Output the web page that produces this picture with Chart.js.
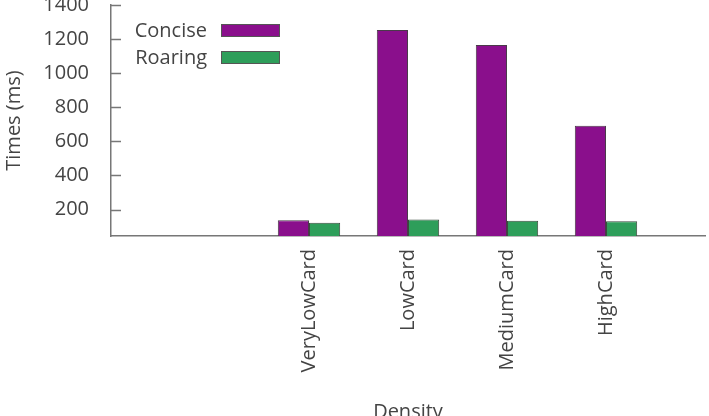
<!DOCTYPE html>
<html>
<head>
<meta charset="utf-8">
<script src="https://cdn.jsdelivr.net/npm/chart.js@4/dist/chart.umd.min.js"></script>
<style>
  html, body { margin: 0; padding: 0; background: #fff; }
  #wrap { width: 709px; height: 416px; }
</style>
</head>
<body>
<div id="wrap"><canvas id="densityChart" width="709" height="416"></canvas></div>
<script>
// Données
const categories = ['', '', 'VeryLowCard', 'LowCard', 'MediumCard', 'HighCard', ''];
const concise = [null, null, 138, 1253, 1165, 691, null];
const roaring = [null, null, 122, 142, 134, 131, null];
const yTicks = [200, 400, 600, 800, 1000, 1200, 1400];

const textColor = '#444';
const axisColor = '#777';

// Petits traits de graduation vers l'intérieur (style gnuplot)
const innerTicks = {
    id: 'innerTicks',
    afterDraw(chart) {
        const ctx = chart.ctx;
        const y = chart.scales.y;
        ctx.save();
        ctx.strokeStyle = axisColor;
        ctx.lineWidth = 1.5;
        yTicks.forEach(function(v) {
            const py = Math.round(y.getPixelForValue(v)) + 0.5;
            ctx.beginPath();
            ctx.moveTo(y.right, py);
            ctx.lineTo(y.right + 10, py);
            ctx.stroke();
        });
        ctx.restore();
    }
};

// Légende façon gnuplot : texte à gauche, carré de couleur à droite
const innerLegend = {
    id: 'innerLegend',
    afterDraw(chart) {
        const ctx = chart.ctx;
        const area = chart.chartArea;
        ctx.save();
        ctx.font = '20px "Open Sans"';
        ctx.textAlign = 'right';
        ctx.textBaseline = 'middle';
        chart.data.datasets.forEach(function(ds, i) {
            const y = area.top + 26 + i * 27;
            ctx.fillStyle = textColor;
            ctx.fillText(ds.label, area.left + 96, y);
            ctx.fillStyle = ds.backgroundColor;
            ctx.fillRect(area.left + 110, y - 7, 59, 13);
            ctx.strokeStyle = '#555';
            ctx.lineWidth = 1;
            ctx.strokeRect(area.left + 110.5, y - 6.5, 58, 12);
        });
        ctx.restore();
    }
};

const ctx = document.getElementById('densityChart').getContext('2d');
const densityChart = new Chart(ctx, {
    type: 'bar',
    data: {
        labels: categories,
        datasets: [{
            label: 'Concise',
            data: concise,
            backgroundColor: '#8a0f8c',
            borderColor: '#4a3a4a',
            borderWidth: 1,
            categoryPercentage: 0.63,
            barPercentage: 1.0
        }, {
            label: 'Roaring',
            data: roaring,
            backgroundColor: '#2e9e5a',
            borderColor: '#3a4a3f',
            borderWidth: 1,
            categoryPercentage: 0.63,
            barPercentage: 1.0
        }]
    },
    options: {
        responsive: false,
        animation: false,
        layout: { padding: { top: 5, right: 4, left: 0, bottom: 0 } },
        plugins: {
            legend: { display: false },
            tooltip: { enabled: false }
        },
        scales: {
            x: {
                offset: false,
                grid: { display: false },
                border: { display: true, color: axisColor, width: 1.5 },
                ticks: {
                    color: textColor,
                    font: { family: 'Open Sans', size: 20 },
                    minRotation: 90,
                    maxRotation: 90,
                    padding: 5,
                    autoSkip: false
                },
                title: {
                    display: true,
                    text: 'Density',
                    color: textColor,
                    font: { family: 'Open Sans', size: 20 },
                    padding: { top: 0, bottom: -8 }
                },
                afterFit(scale) {
                    scale.height = 180;
                    scale.paddingLeft = 0;
                    scale.paddingRight = 0;
                }
            },
            y: {
                min: 45,
                max: 1400,
                afterBuildTicks(scale) {
                    scale.ticks = yTicks.map(v => ({ value: v }));
                },
                grid: { display: false },
                border: { display: true, color: axisColor, width: 1.5 },
                ticks: {
                    color: textColor,
                    font: { family: 'Open Sans', size: 20 },
                    padding: 14,
                    callback: v => String(v)
                },
                title: {
                    display: true,
                    text: 'Times (ms)',
                    color: textColor,
                    font: { family: 'Open Sans', size: 20 },
                    padding: { top: 2, bottom: 0 }
                },
                afterFit(scale) {
                    scale.width = 111;
                    scale.paddingTop = 0;
                    scale.paddingBottom = 0;
                }
            }
        }
    },
    plugins: [innerTicks, innerLegend]
});
</script>
</body>
</html>
